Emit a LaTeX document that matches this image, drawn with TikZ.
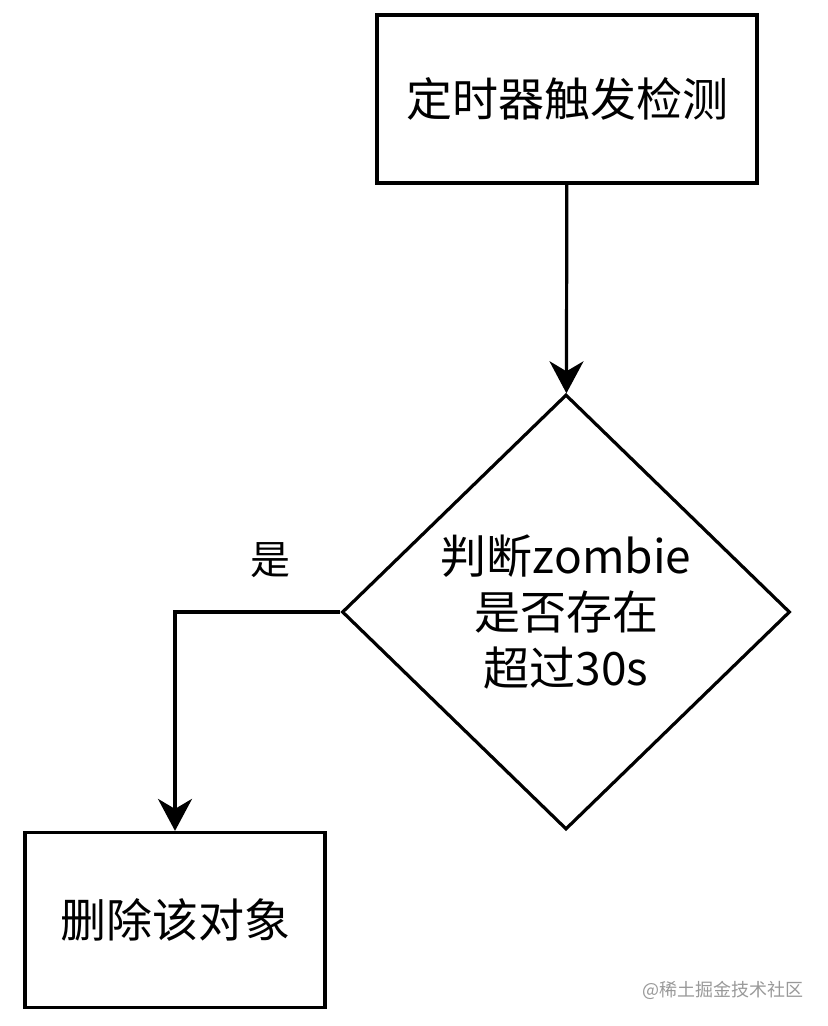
\documentclass[tikz,border=0pt]{standalone}
\usepackage{fontspec}
\setmainfont{Noto Sans CJK SC}
\usetikzlibrary{shapes.geometric,arrows.meta}
\begin{document}
\begin{tikzpicture}[x=0.5pt,y=-0.5pt,
  box/.style={draw,line width=1.6pt,minimum width=190pt,minimum height=84pt,
    inner sep=0pt,font=\fontsize{23}{28}\selectfont},
  judgebox/.style={draw,diamond,aspect=1.03,line width=1.6pt,minimum width=224pt,
    minimum height=217.5pt,inner sep=0pt,align=center,font=\fontsize{23}{28}\selectfont},
  flow/.style={line width=1.6pt,-{Stealth[length=16pt,width=17pt,inset=5pt]}}]
  \useasboundingbox (0,0) rectangle (828,1026);

  % 定时器
  \node[box] (timer) at (567,99) {定时器触发检测};

  % 判断
  \node[judgebox] (judge) at (566,612) {判断zombie\\是否存在\\超过30s};

  % 删除
  \node[box,minimum width=150pt,minimum height=87.5pt] (del) at (175,920) {删除该对象};

  % 连线
  \draw[flow] (timer) -- (judge);
  \draw[flow] (judge.west) -| (del.north);
  \node[font=\fontsize{20}{24}\selectfont] (yes) at (270,560) {是};

  % 水印
  \node[text=black!40,font=\fontsize{9}{11}\selectfont] (mark) at (723,990) {@稀土掘金技术社区};
\end{tikzpicture}
\end{document}
